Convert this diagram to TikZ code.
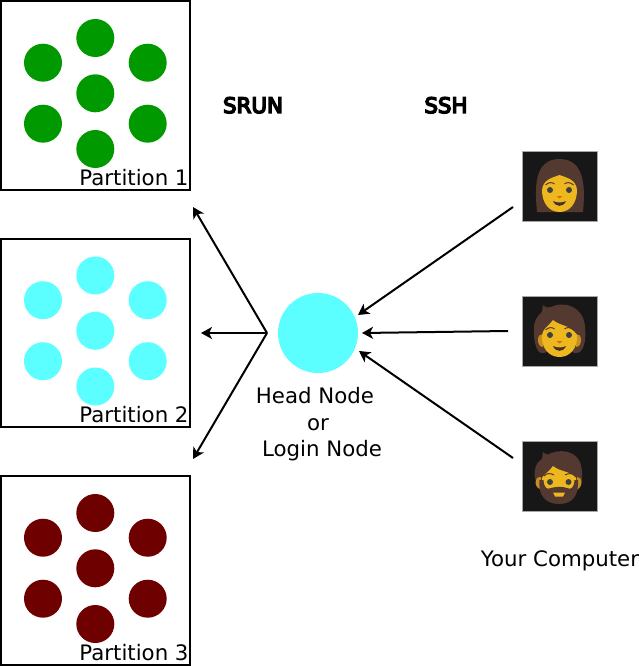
\documentclass[tikz,border=0pt]{standalone}
\usepackage{fontspec}
\setmainfont{DejaVu Sans}
\newfontfamily\strokefont[FakeBold=7]{DejaVu Sans}
\usetikzlibrary{arrows.meta}
\definecolor{pgreen}{HTML}{009A00}
\definecolor{pcyan}{HTML}{5CFFFF}
\definecolor{pred}{HTML}{6E0000}
\definecolor{hair}{HTML}{543930}
\definecolor{skin}{HTML}{EDB81F}
\definecolor{earskin}{HTML}{C98F1E}
\definecolor{eye}{HTML}{404040}
\definecolor{tile}{HTML}{171717}
\tikzset{
  x=1pt,y=-1pt,
  partbox/.style={draw=black,line width=2pt,fill=white,minimum width=188.5pt,minimum height=188.5pt,inner sep=0pt,outer sep=0pt,anchor=north west},
  dot/.style={circle,minimum size=38pt,inner sep=0pt,outer sep=0pt,fill=#1},
  headnode/.style={circle,minimum size=80pt,inner sep=0pt,outer sep=0pt,fill=pcyan},
  lbl/.style={font=\fontsize{21.3pt}{25pt}\selectfont,inner sep=0pt,anchor=base},
  boldlbl/.style={font=\fontsize{21.3pt}{25pt}\selectfont\strokefont,inner sep=0pt,anchor=base},
  conn/.style={draw=black,line width=2pt,-{Stealth[length=11pt,width=12pt,inset=3pt]}},
  tilebox/.style={fill=tile,draw=gray!70,line width=0.6pt,minimum width=75pt,minimum height=70pt,inner sep=0pt},
}
\newcommand{\cluster}[3]{%
  \node[dot=#3] (#1a) at (95.3,38+#2) {};
  \node[dot=#3] (#1b) at (43,62.7+#2) {};
  \node[dot=#3] (#1c) at (147.7,62.7+#2) {};
  \node[dot=#3] (#1d) at (95.3,93.3+#2) {};
  \node[dot=#3] (#1e) at (43,123.7+#2) {};
  \node[dot=#3] (#1f) at (147.7,123.7+#2) {};
  \node[dot=#3] (#1g) at (95.3,149+#2) {};
}
\newcommand{\eyesmile}[2]{%
  \fill[eye] (#1-9.5,#2-3) circle (3);
  \fill[eye] (#1+9.5,#2-3) circle (3);
  \fill[hair!85!black] (#1-6.5,#2+8) .. controls (#1-3,#2+10) and (#1+3,#2+10) .. (#1+6.5,#2+8) .. controls (#1+4,#2+14.5) and (#1-4,#2+14.5) .. (#1-6.5,#2+8) -- cycle;
  \fill[orange!85!black] (#1-3,#2+3) -- (#1+3,#2+3) -- (#1,#2+5.5) -- cycle;
  \draw[hair,line width=1pt] (#1-14,#2-8) .. controls (#1-11,#2-11) and (#1-7,#2-11) .. (#1-5,#2-9);
  \draw[hair,line width=1pt] (#1+14,#2-8) .. controls (#1+11,#2-11) and (#1+7,#2-11) .. (#1+5,#2-9);
}
\begin{document}
\begin{tikzpicture}
\useasboundingbox (0,0) rectangle (639,666);
\fill[white] (0,0) rectangle (639,666);
\node[partbox] (box1) at (1,1) {};
\node[partbox] (box2) at (1,238.5) {};
\node[partbox] (box3) at (1,476) {};
\cluster{g}{0}{pgreen}
\cluster{c}{237.5}{pcyan}
\cluster{r}{475}{pred}
\node[lbl] (p1) at (134,185) {Partition 1};
\node[lbl] (p2) at (134,422.5) {Partition 2};
\node[lbl] (p3) at (134,660) {Partition 3};
\node[boldlbl] (srun) at (253,113) {SRUN};
\node[boldlbl] (ssh) at (446,113) {SSH};
\node[headnode] (head) at (318,333) {};
\node[lbl] (hn1) at (315,403) {Head Node};
\node[lbl] (hn2) at (318,430) {or};
\node[lbl] (hn3) at (322,456) {Login Node};
\node[lbl] (yc) at (560,566) {Your Computer};
% tiles
\node[tilebox] (u1) at (559.5,186) {};
\node[tilebox] (u2) at (559.5,331) {};
\node[tilebox] (u3) at (559.5,476) {};
% woman
\fill[hair] (537,212) .. controls (535,190) and (533,159) .. (559.5,159) .. controls (586,159) and (585,190) .. (583,212) -- cycle;
\fill[skin] (542,190) .. controls (543,180) and (551,178) .. (559.5,175) .. controls (568,178) and (576,180) .. (577,190) .. controls (577,203) and (570,212) .. (559.5,212) .. controls (549,212) and (542,203) .. (542,190) -- cycle;
\eyesmile{559.5}{193}
% person
\fill[hair] (534,332) .. controls (533,321) and (538,315) .. (542,312) -- (543,305) .. controls (546,308) and (548,308) .. (551,307) .. controls (566,300) and (584,308) .. (585,327) .. controls (586,338) and (585,347) .. (580,352) .. controls (576,354) and (572,353) .. (570,350) -- (549,350) .. controls (547,353) and (542,354) .. (539,352) .. controls (535,347) and (534,340) .. (534,332) -- cycle;
\fill[earskin] (538,340) .. controls (538,336) and (540,334) .. (543,334) -- (543,347) .. controls (540,347) and (538,344) .. (538,340) -- cycle;
\fill[earskin] (581,340) .. controls (581,336) and (579,334) .. (576,334) -- (576,347) .. controls (579,347) and (581,344) .. (581,340) -- cycle;
\fill[skin] (542,335) .. controls (543,328) and (549,326) .. (553,320) .. controls (560,326) and (571,325) .. (577,335) .. controls (578,348) and (570,357) .. (559.5,357) .. controls (549,357) and (541,348) .. (542,335) -- cycle;
\eyesmile{559.5}{338}
% bearded
\fill[hair] (535,478) .. controls (533,468) and (538,461) .. (542,459) -- (543,452) .. controls (546,455) and (548,455) .. (551,453) .. controls (565,448) and (584,452) .. (582,478) .. controls (582,482) and (581,486) .. (578,490) -- (541,490) .. controls (538,486) and (536,482) .. (535,478) -- cycle;
\fill[earskin] (535.5,482) .. controls (535.5,479) and (537,477) .. (541,477) -- (541,489) .. controls (538,489) and (535.5,486) .. (535.5,482) -- cycle;
\fill[earskin] (581.5,482) .. controls (581.5,479) and (580,477) .. (577,477) -- (577,489) .. controls (579,489) and (581.5,486) .. (581.5,482) -- cycle;
\fill[skin] (542,478) .. controls (544,474) and (549,472) .. (553,466) .. controls (560,472) and (571,471) .. (576,478) -- (576,490) .. controls (574,498) and (567,500) .. (559.5,500) .. controls (552,500) and (544,498) .. (542,490) -- cycle;
\fill[hair] (539.5,480) -- (543.5,480) .. controls (544,488) and (547,490) .. (551,488) .. controls (556,486.5) and (563,486.5) .. (567,488) .. controls (571,490) and (574,488) .. (574.5,480) -- (578,480) .. controls (579,496) and (572,504) .. (559,504) .. controls (546,504) and (538,496) .. (539.5,480) -- cycle;
\fill[eye] (550,482) circle (3);
\fill[eye] (568.5,482) circle (3);
\fill[skin] (553,492.5) -- (565,492.5) -- (563,496.5) -- (555,496.5) -- cycle;
\draw[hair,line width=1pt] (544,476) .. controls (546,473) and (551,473) .. (554,475);
\draw[hair,line width=1pt] (575,476) .. controls (573,473) and (568,473) .. (565,475);
% connectors
\coordinate (hub) at (267,333);
\coordinate (t1) at (193,207);
\coordinate (t2) at (201,333);
\coordinate (t3) at (193,459);
\coordinate (s1) at (513,207);
\coordinate (e1) at (358,315);
\coordinate (s2) at (508,331);
\coordinate (e2) at (362,333);
\coordinate (s3) at (513,458);
\coordinate (e3) at (359,351);
\draw[conn] (hub) -- (t1);
\draw[conn] (hub) -- (t2);
\draw[conn] (hub) -- (t3);
\draw[conn] (s1) -- (e1);
\draw[conn] (s2) -- (e2);
\draw[conn] (s3) -- (e3);
\end{tikzpicture}
\end{document}
